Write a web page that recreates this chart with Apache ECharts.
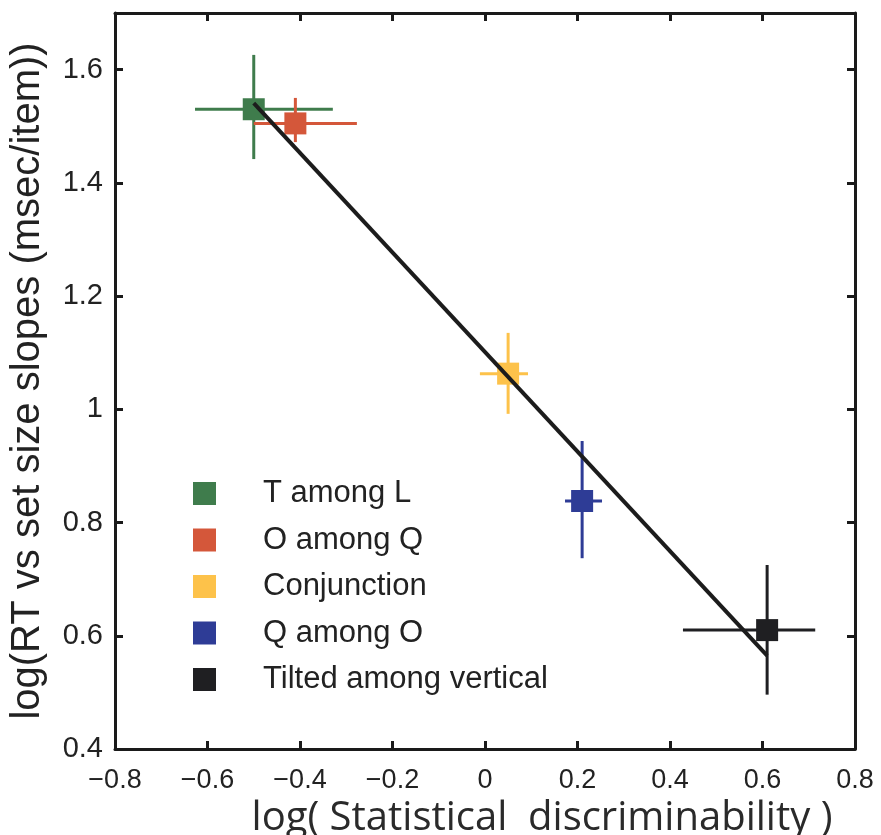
<!DOCTYPE html>
<html>
<head>
<meta charset="utf-8">
<script src="https://cdn.jsdelivr.net/npm/echarts@6/dist/echarts.min.js"></script>
<style>html,body{margin:0;padding:0;background:#fff;}#c{width:881px;height:835px;}</style>
</head>
<body>
<div id="c"></div>
<script>
// Data
const names = ['T among L', 'O among Q', 'Conjunction', 'Q among O', 'Tilted among vertical'];
const colors = ['#3f7c4c', '#d4573a', '#fdc24a', '#2e3c96', '#1f1f22'];
const xVals = [-0.50, -0.41, 0.05, 0.21, 0.61];
const yVals = [1.530, 1.505, 1.063, 0.838, 0.610];
const xLow  = [-0.627, -0.500, -0.011, 0.173, 0.428];
const xHigh = [-0.329, -0.277, 0.093, 0.253, 0.714];
const yLow  = [1.442, 1.472, 0.992, 0.737, 0.496];
const yHigh = [1.626, 1.550, 1.135, 0.944, 0.725];
const fitX = [-0.50, 0.61];
const fitY = [1.541, 0.565];
const xTicks = {min: -0.8, max: 0.8, interval: 0.2};
const yTicks = {min: 0.4, max: 1.7, interval: 0.2};

const fmt = v => String(Math.round(v * 10) / 10).replace('-', '\u2212');

const chart = echarts.init(document.getElementById('c'), null, {renderer: 'canvas'});

const axisLine = {show: true, onZero: false, lineStyle: {color: '#1a1a1a', width: 3}};
const axisTick = {show: true, inside: true, length: 8, lineStyle: {color: '#1a1a1a', width: 3}};

const series = names.map((n, i) => ({
  name: n,
  type: 'custom',
  itemStyle: {color: colors[i]},
  data: [[xVals[i], yVals[i], xLow[i], xHigh[i], yLow[i], yHigh[i]]],
  renderItem: (params, api) => {
    const c = api.coord([api.value(0), api.value(1)]);
    const l = api.coord([api.value(2), api.value(1)]);
    const r = api.coord([api.value(3), api.value(1)]);
    const t = api.coord([api.value(0), api.value(5)]);
    const b = api.coord([api.value(0), api.value(4)]);
    const s = 22;
    const st = {stroke: colors[i], lineWidth: 3};
    return {
      type: 'group',
      children: [
        {type: 'line', shape: {x1: l[0], y1: l[1], x2: r[0], y2: r[1]}, style: st},
        {type: 'line', shape: {x1: t[0], y1: t[1], x2: b[0], y2: b[1]}, style: st},
        {type: 'rect', shape: {x: c[0] - s / 2, y: c[1] - s / 2, width: s, height: s}, style: {fill: colors[i]}}
      ]
    };
  },
  z: 2
}));

series.push({
  type: 'line',
  data: fitX.map((x, i) => [x, fitY[i]]),
  symbol: 'none',
  lineStyle: {color: '#1c1c1c', width: 4},
  z: 5,
  silent: true
});

chart.setOption({
  animation: false,
  backgroundColor: '#fff',
  grid: {left: 115, right: 26, top: 13, bottom: 86, outerBoundsMode: 'none', containLabel: false},
  legend: {
    orient: 'vertical',
    left: 193, top: 478, padding: 0,
    itemWidth: 23, itemHeight: 23, itemGap: 15.5,
    icon: 'rect',
    data: names,
    textStyle: {fontFamily: 'Liberation Sans', fontSize: 31, color: '#222', padding: [0, 0, 0, 42]}
  },
  xAxis: [{
    type: 'value', min: xTicks.min, max: xTicks.max, interval: xTicks.interval,
    axisLine, axisTick, splitLine: {show: false},
    axisLabel: {formatter: fmt, fontFamily: 'Liberation Sans', fontSize: 27, color: '#222', margin: 18},
    name: 'log( Statistical  discriminability )', nameLocation: 'middle', nameGap: 46,
    nameTextStyle: {fontFamily: 'Open Sans', fontSize: 40, color: '#2a2a2a', padding: [0, 0, 0, 114]}
  }, {
    type: 'value', position: 'top', min: xTicks.min, max: xTicks.max, interval: xTicks.interval,
    axisLine, axisTick, axisLabel: {show: false}, splitLine: {show: false}
  }],
  yAxis: [{
    type: 'value', min: yTicks.min, max: yTicks.max, interval: yTicks.interval,
    axisLine, axisTick, splitLine: {show: false},
    axisLabel: {formatter: fmt, fontFamily: 'Liberation Sans', fontSize: 29, color: '#222', margin: 12, showMaxLabel: false},
    name: 'log(RT vs set size slopes (msec/item))', nameLocation: 'middle', nameGap: 67, nameRotate: 90,
    nameTextStyle: {fontFamily: 'Liberation Sans', fontSize: 40, color: '#222'}
  }, {
    type: 'value', position: 'right', min: yTicks.min, max: yTicks.max, interval: yTicks.interval,
    axisLine, axisTick, axisLabel: {show: false}, splitLine: {show: false}
  }],
  series
});
</script>
</body>
</html>
